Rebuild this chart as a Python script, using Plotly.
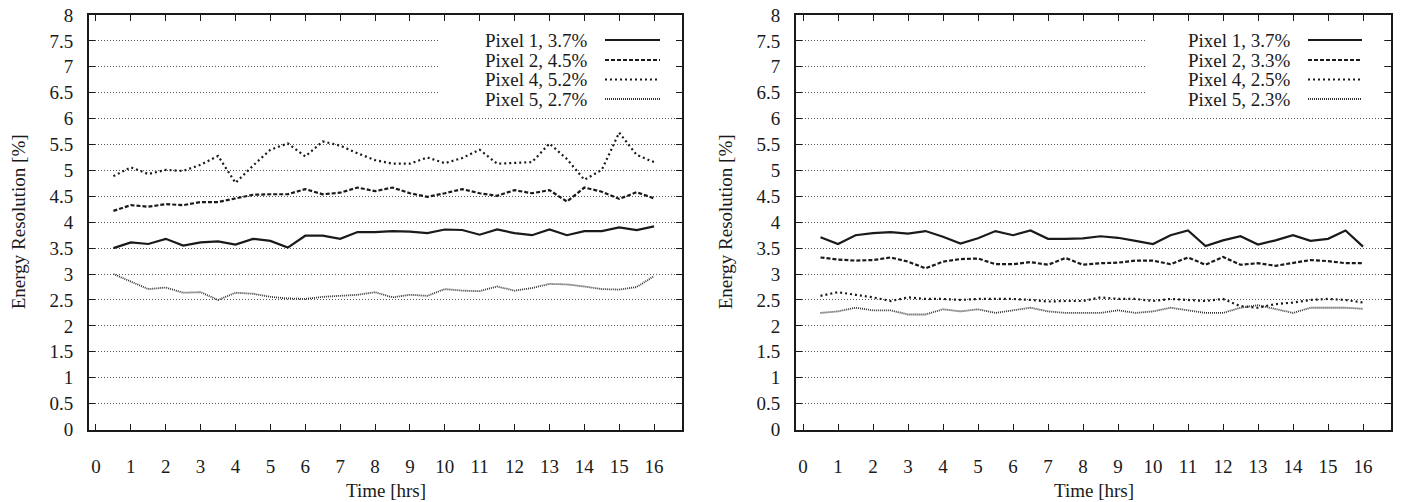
import plotly.graph_objects as go

# ---------------- data ----------------
time_hrs = [0.5, 1.0, 1.5, 2.0, 2.5, 3.0, 3.5, 4.0, 4.5, 5.0, 5.5, 6.0, 6.5, 7.0, 7.5, 8.0,
            8.5, 9.0, 9.5, 10.0, 10.5, 11.0, 11.5, 12.0, 12.5, 13.0, 13.5, 14.0, 14.5, 15.0, 15.5, 16.0]

left_pixel1 = [3.50, 3.61, 3.58, 3.68, 3.55, 3.61, 3.63, 3.57, 3.68, 3.64, 3.51, 3.74, 3.74, 3.68, 3.81, 3.81,
               3.83, 3.82, 3.79, 3.86, 3.85, 3.76, 3.86, 3.79, 3.75, 3.86, 3.75, 3.83, 3.83, 3.90, 3.85, 3.92]
left_pixel2 = [4.22, 4.33, 4.30, 4.35, 4.33, 4.39, 4.39, 4.46, 4.53, 4.54, 4.54, 4.64, 4.54, 4.57, 4.67, 4.60,
               4.67, 4.56, 4.49, 4.56, 4.64, 4.56, 4.51, 4.62, 4.56, 4.62, 4.40, 4.67, 4.59, 4.45, 4.58, 4.46]
left_pixel4 = [4.89, 5.06, 4.93, 5.01, 4.99, 5.11, 5.28, 4.76, 5.09, 5.40, 5.52, 5.27, 5.56, 5.48, 5.33, 5.20,
               5.13, 5.13, 5.25, 5.14, 5.24, 5.40, 5.13, 5.14, 5.16, 5.52, 5.22, 4.82, 5.01, 5.73, 5.30, 5.16]
left_pixel5 = [3.00, 2.85, 2.71, 2.74, 2.64, 2.65, 2.50, 2.64, 2.62, 2.56, 2.53, 2.52, 2.56, 2.58, 2.60, 2.65,
               2.55, 2.60, 2.58, 2.71, 2.68, 2.67, 2.76, 2.68, 2.73, 2.81, 2.80, 2.76, 2.71, 2.70, 2.75, 2.96]

right_pixel1 = [3.71, 3.58, 3.75, 3.79, 3.81, 3.78, 3.83, 3.72, 3.59, 3.69, 3.83, 3.75, 3.84, 3.68, 3.68, 3.69,
                3.73, 3.70, 3.64, 3.58, 3.75, 3.84, 3.54, 3.65, 3.73, 3.57, 3.65, 3.75, 3.64, 3.68, 3.84, 3.53]
right_pixel2 = [3.32, 3.28, 3.26, 3.27, 3.32, 3.24, 3.11, 3.24, 3.29, 3.30, 3.19, 3.19, 3.23, 3.18, 3.31, 3.18,
                3.21, 3.22, 3.26, 3.26, 3.19, 3.32, 3.18, 3.33, 3.18, 3.21, 3.16, 3.22, 3.27, 3.25, 3.21, 3.21]
right_pixel4 = [2.58, 2.65, 2.60, 2.55, 2.48, 2.55, 2.52, 2.52, 2.50, 2.52, 2.52, 2.52, 2.50, 2.47, 2.48, 2.48,
                2.55, 2.52, 2.52, 2.48, 2.52, 2.50, 2.48, 2.52, 2.38, 2.35, 2.42, 2.45, 2.50, 2.52, 2.50, 2.45]
right_pixel5 = [2.25, 2.28, 2.35, 2.30, 2.30, 2.22, 2.22, 2.32, 2.28, 2.32, 2.25, 2.30, 2.35, 2.28, 2.25, 2.25,
                2.25, 2.30, 2.25, 2.28, 2.35, 2.30, 2.25, 2.25, 2.35, 2.40, 2.32, 2.25, 2.35, 2.35, 2.35, 2.33]

left_labels = ["Pixel 1, 3.7%", "Pixel 2, 4.5%", "Pixel 4, 5.2%", "Pixel 5, 2.7%"]
right_labels = ["Pixel 1, 3.7%", "Pixel 2, 3.3%", "Pixel 4, 2.5%", "Pixel 5, 2.3%"]

x_tickvals = [0, 1, 2, 3, 4, 5, 6, 7, 8, 9, 10, 11, 12, 13, 14, 15, 16]
y_tickvals = [0, 0.5, 1, 1.5, 2, 2.5, 3, 3.5, 4, 4.5, 5, 5.5, 6, 6.5, 7, 7.5, 8]
y_ticktext = ["0", "0.5", "1", "1.5", "2", "2.5", "3", "3.5", "4", "4.5", "5", "5.5", "6", "6.5", "7", "7.5", "8"]

x_title = "Time [hrs]"
y_title = "Energy Resolution [%]"

# ---------------- styling ----------------
W, H = 1401, 502
FONT = "Liberation Serif, Times New Roman, Times, DejaVu Serif, serif"
INK = "#1a1a1a"
TICK_SIZE = 19
TEXT_SIZE = 19
styles = [
    dict(color=INK, width=2.2, dash="solid"),
    dict(color=INK, width=2.2, dash="4px,2px"),
    dict(color=INK, width=2.2, dash="2px,3px"),
    dict(color="#333333", width=1.8, dash="1px,1px"),
]


def px_x(p):
    return p / W


def px_y(p):
    return 1 - p / H


fig = go.Figure()

panels = [
    ("x", "y", [left_pixel1, left_pixel2, left_pixel4, left_pixel5], left_labels),
    ("x2", "y2", [right_pixel1, right_pixel2, right_pixel4, right_pixel5], right_labels),
]
for xa, ya, series, labels in panels:
    for vals, st, lab in zip(series, styles, labels):
        fig.add_trace(go.Scatter(x=time_hrs, y=vals, mode="lines", name=lab,
                                 line=st, xaxis=xa, yaxis=ya, showlegend=False))

frame_top, frame_bot = 15, 429.5
doms = [(89, 682), (796, 1391)]

axis_common = dict(showline=True, linewidth=2, linecolor=INK, mirror="ticks",
                   ticks="inside", ticklen=6, tickwidth=1.3, tickcolor=INK,
                   zeroline=False, automargin=False,
                   tickfont=dict(family=FONT, size=TICK_SIZE, color=INK))

layout = dict(width=W, height=H, margin=dict(l=0, r=0, t=0, b=0, pad=0, autoexpand=False),
              plot_bgcolor="white", paper_bgcolor="white",
              font=dict(family=FONT, size=TEXT_SIZE, color=INK), showlegend=False)

for i, (x0, x1) in enumerate(doms):
    sfx = "" if i == 0 else "2"
    layout["xaxis" + sfx] = dict(axis_common, domain=[px_x(x0), px_x(x1)], range=[-0.2, 16.8],
                                 tickvals=x_tickvals, showgrid=False,
                                 ticklabelstandoff=19, anchor="y" + sfx)
    layout["yaxis" + sfx] = dict(axis_common, domain=[px_y(frame_bot), px_y(frame_top)], range=[0, 8],
                                 tickvals=y_tickvals, ticktext=y_ticktext, showgrid=True,
                                 gridcolor="#555555", gridwidth=1, griddash="1px,2px",
                                 ticklabelstandoff=10, anchor="x" + sfx)

fig.update_layout(**layout)

shapes = []
annotations = []
for (x0, x1), (bx0, tx, sx0, sx1), labels in zip(
        doms, [(440, 590, 605, 660), (1145, 1293, 1308, 1362)], [left_labels, right_labels]):
    cx = (x0 + x1) / 2
    annotations.append(dict(text=x_title, x=px_x(cx), y=px_y(490), xref="paper", yref="paper",
                            showarrow=False, xanchor="center", yanchor="middle",
                            font=dict(family=FONT, size=TEXT_SIZE, color=INK)))
    annotations.append(dict(text=y_title, x=px_x(x0 - 71), y=px_y((frame_top + frame_bot) / 2),
                            xref="paper", yref="paper", showarrow=False, textangle=-90,
                            xanchor="center", yanchor="middle",
                            font=dict(family=FONT, size=TEXT_SIZE, color=INK)))
    # legend box (opaque, covers grid)
    shapes.append(dict(type="rect", xref="paper", yref="paper", layer="above",
                       x0=px_x(bx0), x1=px_x(x1 - 7), y0=px_y(108), y1=px_y(28),
                       fillcolor="white", line=dict(width=0)))
    rows = [40, 60, 79.5, 99]
    for lab, st, ry in zip(labels, styles, rows):
        annotations.append(dict(text=lab, x=px_x(tx), y=px_y(ry), xref="paper", yref="paper",
                                showarrow=False, xanchor="right", yanchor="middle",
                                font=dict(family=FONT, size=TEXT_SIZE, color=INK)))
        shapes.append(dict(type="line", xref="paper", yref="paper", layer="above",
                           x0=px_x(sx0), x1=px_x(sx1), y0=px_y(ry), y1=px_y(ry),
                           line=dict(color=st["color"], width=st["width"], dash=st["dash"])))

fig.update_layout(shapes=shapes, annotations=annotations)

fig.write_html("out.html")
